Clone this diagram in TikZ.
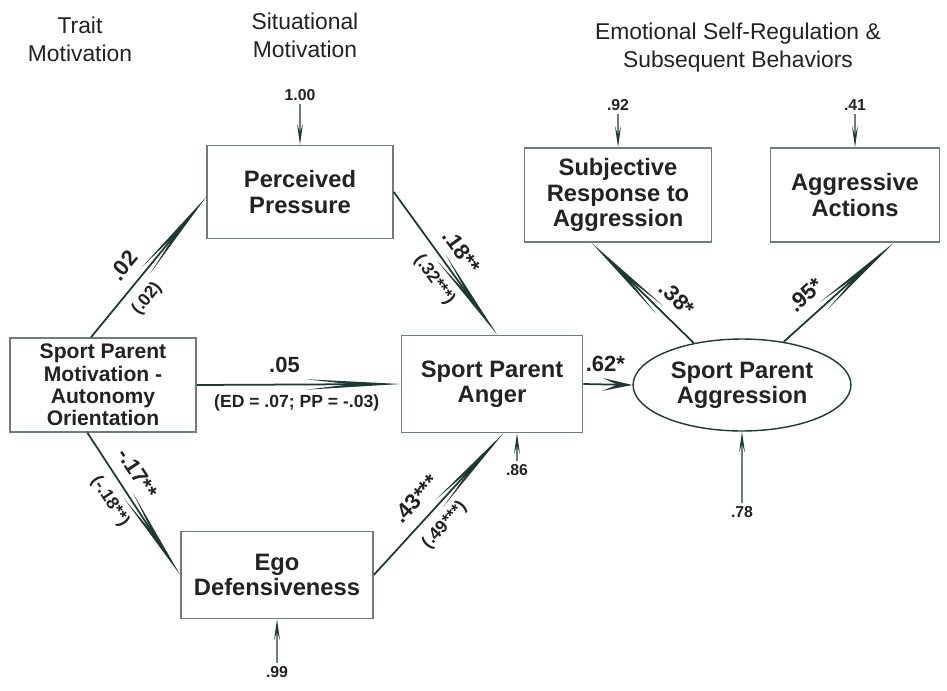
\documentclass[tikz,border=0pt]{standalone}
\usepackage{fontspec}
\setmainfont{Liberation Sans}
\usetikzlibrary{arrows.meta,shapes.geometric}

\definecolor{pathcol}{HTML}{1E3834}
\definecolor{boxcol}{HTML}{6E7C7A}
\definecolor{txtcol}{HTML}{222222}

\tikzset{
  block/.style={rectangle, draw=boxcol, line width=0.9pt, text=txtcol, align=center,
    minimum width=3.72cm, minimum height=1.86cm,
    font=\fontsize{13.5}{14.3}\selectfont\bfseries},
  smallblock/.style={block, font=\fontsize{12}{12.8}\selectfont\bfseries},
  latent/.style={ellipse, draw=pathcol, line width=0.8pt, text=txtcol, align=center,
    minimum width=4.1cm, minimum height=1.84cm,
    font=\fontsize{13.5}{14.3}\selectfont\bfseries},
  header/.style={text=txtcol, align=center, font=\fontsize{13}{15.9}\selectfont},
  coef/.style={text=txtcol, font=\fontsize{12.5}{14}\selectfont\bfseries, inner sep=6.5pt},
  subcoef/.style={text=txtcol, font=\fontsize{10}{12}\selectfont\bfseries, inner sep=5.5pt},
  errlbl/.style={text=txtcol, font=\fontsize{9}{10}\selectfont\bfseries, inner sep=2pt},
  effect/.style={draw=pathcol, line width=1pt,
    -{Stealth[length=1.9cm, width=0.21cm, inset=0.9cm, line width=0pt, fill=pathcol]}},
  shorteffect/.style={draw=pathcol, line width=1pt,
    -{Stealth[length=0.6cm, width=0.26cm, inset=0.3cm, line width=0pt, fill=pathcol]}},
  errarrow/.style={draw=boxcol, line width=0.8pt,
    -{Stealth[length=0.42cm, width=0.12cm, inset=0.18cm, line width=0pt, fill=pathcol]}}
}

\begin{document}
\begin{tikzpicture}[x=0.02cm, y=-0.02cm]
  \useasboundingbox (0,0) rectangle (947,690);

  % column headers
  \node[header] (hTrait) at (80,39) {Trait\\Motivation};
  \node[header] (hSit) at (305,35) {Situational\\Motivation};
  \node[header] (hEmo) at (738,48) {Emotional Self-Regulation \&\\Subsequent Behaviors};

  % observed and latent variables
  \node[smallblock] (motiv) at (103,385) {Sport Parent\\Motivation -\\Autonomy\\Orientation};
  \node[block] (press) at (300,192) {Perceived\\Pressure};
  \node[block, minimum width=3.62cm, minimum height=1.94cm] (anger) at (492,384) {Sport Parent\\Anger};
  \node[block, minimum width=3.84cm, minimum height=1.74cm] (ego) at (277,575) {Ego\\Defensiveness};
  \node[block, minimum width=3.74cm, minimum height=1.88cm] (subj) at (618,195) {Subjective\\Response to\\Aggression};
  \node[block, minimum width=3.38cm, minimum height=1.88cm] (aggact) at (855,195) {Aggressive\\Actions};
  \node[latent] (aggr) at (742,385) {Sport Parent\\Aggression};

  % residual terms
  \node[errlbl] (ePress) at (300,95) {1.00};
  \node[errlbl] (eSubj) at (618,105) {.92};
  \node[errlbl] (eAct) at (855,105) {.41};
  \node[errlbl] (eAnger) at (517,470) {.86};
  \node[errlbl] (eAggr) at (742,512) {.78};
  \node[errlbl] (eEgo) at (277,672) {.99};

  \draw[errarrow] (ePress) -- (press);
  \draw[errarrow] (eSubj) -- (subj);
  \draw[errarrow] (eAct) -- (aggact);
  \draw[errarrow] (eAnger) -- (eAnger |- anger.south);
  \draw[errarrow] (eAggr) -- (aggr);
  \draw[errarrow] (eEgo) -- (ego);

  % structural paths
  \draw[effect] (motiv.104) -- (press.183)
    node[coef, sloped, above, pos=0.42] {.02}
    node[subcoef, sloped, below, pos=0.36] {(.02)};
  \draw[effect] (press.east) -- (anger.84)
    node[coef, sloped, above, pos=0.5] {.18**}
    node[subcoef, sloped, below, pos=0.54] {(.32***)};
  \draw[effect] (motiv.east) -- (anger.west)
    node[coef, above, pos=0.43] {.05}
    node[subcoef, below, pos=0.49] {(ED = .07; PP = -.03)};
  \draw[effect] (motiv.252) -- (ego.west)
    node[coef, sloped, above, pos=0.36] {-.17**}
    node[subcoef, sloped, below, pos=0.41] {(-.18**)};
  \draw[effect] (ego.east) -- (anger.283)
    node[coef, sloped, above, pos=0.44] {.43***}
    node[subcoef, sloped, below, pos=0.44] {(.49***)};
  \draw[shorteffect] (anger.east) -- (aggr.west)
    node[coef, above, pos=0.45] {.62*};
  \draw[effect] (aggr.139) -- (subj.241)
    node[coef, sloped, above, pos=0.3] {.38*};
  \draw[effect] (aggr.46) -- (aggact.309)
    node[coef, sloped, above, pos=0.32] {.95*};

\end{tikzpicture}
\end{document}
